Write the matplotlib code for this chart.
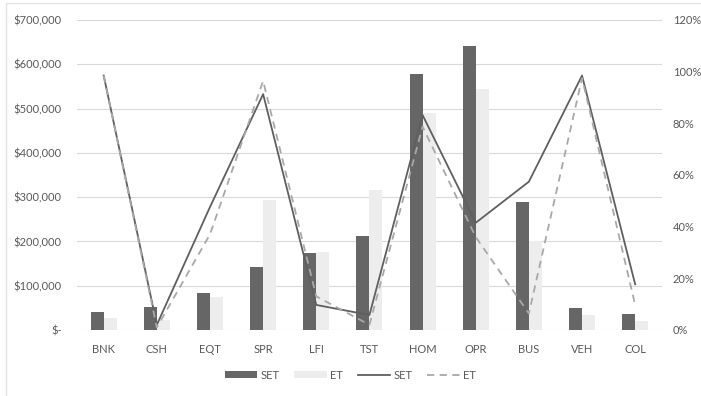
import matplotlib
matplotlib.use("Agg")
import matplotlib.pyplot as plt
import numpy as np
from matplotlib.ticker import FuncFormatter, PercentFormatter
from matplotlib.patches import Rectangle

categories = ["BNK", "CSH", "EQT", "SPR", "LFI", "TST", "HOM", "OPR", "BUS", "VEH", "COL"]
set_amounts = [40000, 53000, 84000, 142000, 174000, 212000, 579000, 642000, 289000, 49000, 37000]
et_amounts = [27000, 22000, 75000, 293000, 176000, 316000, 489000, 544000, 201000, 34000, 21000]
set_share = [0.985, 0.02, 0.476, 0.913, 0.097, 0.058, 0.832, 0.415, 0.574, 0.985, 0.177]
et_share = [0.985, 0.01, 0.37, 0.964, 0.13, 0.02, 0.787, 0.36, 0.064, 0.975, 0.097]

plt.rcParams["font.family"] = ["Lato", "DejaVu Sans"]
text_grey = "#595959"

fig = plt.figure(figsize=(7.01, 3.96), dpi=100)
ax = fig.add_axes([0.11, 0.1667, 0.834, 0.7828])
ax2 = ax.twinx()

x = np.arange(len(categories))
w = 0.245
ax.bar(x - w / 2, set_amounts, w, color="#666666", label="SET", zorder=2)
ax.bar(x + w / 2, et_amounts, w, color="#ededed", label="ET", zorder=2)

ax2.plot(x, set_share, color="#5f5f5f", lw=1.3, label="SET")
ax2.plot(x, et_share, color="#a8a8a8", lw=1.3, ls=(0, (4, 3)), label="ET")

ax.set_xlim(-0.5, len(categories) - 0.5)
ax.set_ylim(0, 700000)
ax.set_yticks(np.arange(0, 700001, 100000))
ax.yaxis.set_major_formatter(FuncFormatter(lambda v, p: "$-" if v == 0 else f"${v:,.0f}"))
ax2.set_ylim(0, 1.2)
ax2.set_yticks(np.arange(0, 1.21, 0.2))
ax2.yaxis.set_major_formatter(PercentFormatter(1.0, decimals=0))

ax.grid(axis="y", color="#d9d9d9", lw=0.8, zorder=0)
ax.set_axisbelow(True)
for a in (ax, ax2):
    for s in a.spines.values():
        s.set_visible(False)
    a.tick_params(length=0, colors=text_grey, labelsize=8)
ax.set_xticks(x)
ax.set_xticklabels(categories)
ax.tick_params(axis="x", pad=10)
ax.tick_params(axis="y", pad=11)
ax2.tick_params(axis="y", pad=8)

h1, l1 = ax.get_legend_handles_labels()
h2, l2 = ax2.get_legend_handles_labels()
fig.legend(h1 + h2, l1 + l2, loc="center", bbox_to_anchor=(0.5, 0.053), ncol=4,
           frameon=False, fontsize=8, labelcolor=text_grey, handlelength=2.9,
           handleheight=0.6, columnspacing=1.3, handletextpad=0.35)

fig.patches.append(Rectangle((0.009, -0.01), 1.0, 1.003, transform=fig.transFigure,
                             fill=False, edgecolor="#e3e3e3", lw=1))

fig.savefig("out.png", dpi=100)
